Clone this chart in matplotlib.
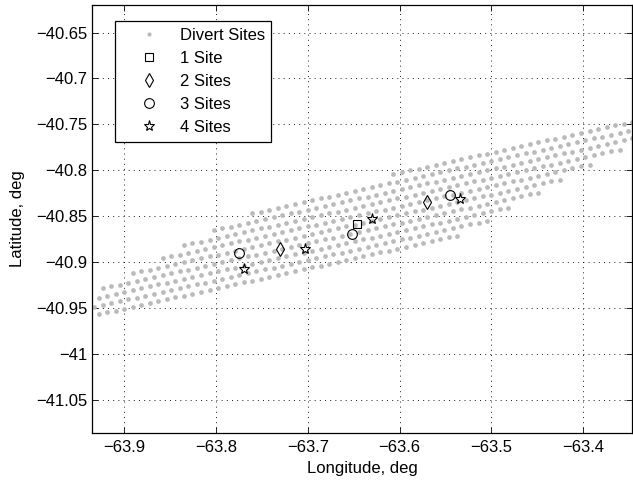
import matplotlib
matplotlib.use('Agg')
import matplotlib.pyplot as plt
import numpy as np

plt.rcParams['font.family'] = ['Liberation Sans', 'DejaVu Sans']
plt.rcParams['axes.unicode_minus'] = True

# divert site grid: one entry per track row (bottom to top)
row_lat = [-40.9507, -40.9416, -40.9324, -40.9233, -40.9142,
           -40.9050, -40.8959, -40.8868, -40.8776, -40.8685]   # lat of row at lon -63.9
row_start = [-64.018, -63.988, -63.957, -63.927, -63.896,
             -63.866, -63.835, -63.804, -63.768, -63.610]
row_end = [-63.533, -63.504, -63.474, -63.445, -63.417,
           -63.389, -63.357, -63.327, -63.297, -63.267]
row_slope = 0.2196    # deg lat per deg lon
dot_step = 0.0093     # along-track spacing, deg lon
row_shift = 0.0046    # stagger between neighbouring rows, deg lon

# selected sites
site1_lon = [-63.646]
site1_lat = [-40.8587]
site2_lon = [-63.730, -63.5704]
site2_lat = [-40.8858, -40.8347]
site3_lon = [-63.7752, -63.6518, -63.5454]
site3_lat = [-40.8904, -40.8695, -40.8268]
site4_lon = [-63.7697, -63.703, -63.630, -63.5341]
site4_lat = [-40.9073, -40.8855, -40.8532, -40.8317]

div_lon = []
div_lat = []
for i in range(len(row_lat)):
    base = -63.9 + (i % 2) * row_shift
    k0 = int(np.ceil((row_start[i] - base) / dot_step))
    k1 = int(np.floor((row_end[i] - base) / dot_step))
    lons = base + dot_step * np.arange(k0, k1 + 1)
    div_lon.extend(lons)
    div_lat.extend(row_lat[i] + row_slope * (lons + 63.9))

fig = plt.figure(figsize=(6.33, 4.86), dpi=100)
ax = fig.add_axes([92 / 633, 53 / 486, 540 / 633, 428 / 486])

ax.plot(div_lon, div_lat, 'o', color='#bababa', markersize=3.4,
        markeredgewidth=0, label='Divert Sites')
mk = dict(linestyle='none', markerfacecolor='none', markeredgecolor='k',
          markeredgewidth=0.8)
ax.plot(site1_lon, site1_lat, 's', markersize=6, label='1 Site', **mk)
ax.plot(site2_lon, site2_lat, 'd', markersize=7.5, label='2 Sites', **mk)
ax.plot(site3_lon, site3_lat, 'o', markersize=7, label='3 Sites', **mk)
ax.plot(site4_lon, site4_lat, '*', markersize=8, label='4 Sites', **mk)

ax.set_xlim(-63.935, -63.347)
ax.set_ylim(-41.086, -40.620)
ax.set_xticks([-63.9, -63.8, -63.7, -63.6, -63.5, -63.4])
ax.set_yticks([-40.65, -40.7, -40.75, -40.8, -40.85, -40.9, -40.95, -41, -41.05])
ax.set_yticklabels(['\u221240.65', '\u221240.7', '\u221240.75', '\u221240.8', '\u221240.85',
                    '\u221240.9', '\u221240.95', '\u221241', '\u221241.05'])
ax.set_xticklabels(['\u221263.9', '\u221263.8', '\u221263.7', '\u221263.6',
                    '\u221263.5', '\u221263.4'])

ax.grid(True, color='k', linestyle=(0, (1.2, 5)), linewidth=0.6)
ax.tick_params(direction='in', length=4, width=0.6, top=True, right=True,
               labelsize=12)
ax.tick_params(axis='x', pad=5)
ax.tick_params(axis='y', pad=3.5)
for s in ax.spines.values():
    s.set_linewidth(0.9)

ax.set_xlabel('Longitude, deg', fontsize=12, labelpad=4)
ax.set_ylabel('Latitude, deg', fontsize=12, labelpad=8)

leg = ax.legend(loc='upper left', bbox_to_anchor=(0.042, 0.962), borderaxespad=0,
                fontsize=12, handlelength=3.28, handletextpad=0.22,
                labelspacing=0.48, borderpad=0.4, fancybox=False, framealpha=1,
                edgecolor='k', numpoints=1)
leg.get_frame().set_linewidth(0.9)
leg.legend_handles[0].set_markersize(3)

fig.savefig('out.png', dpi=100)
